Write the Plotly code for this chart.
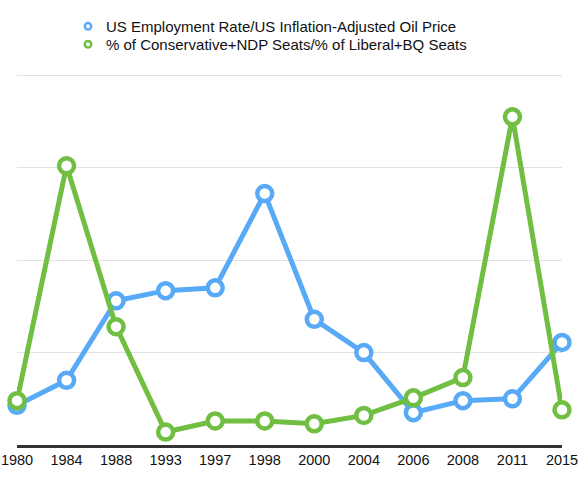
import plotly.graph_objects as go

years = ["1980", "1984", "1988", "1993", "1997", "1998", "2000", "2004", "2006", "2008", "2011", "2015"]
employment_oil = [0.43, 0.70, 1.56, 1.67, 1.70, 2.72, 1.36, 1.00, 0.35, 0.48, 0.50, 1.11]
seat_ratio = [0.48, 3.02, 1.28, 0.14, 0.26, 0.26, 0.23, 0.32, 0.51, 0.73, 3.55, 0.38]

name_blue = "US Employment Rate/US Inflation-Adjusted Oil Price"
name_green = "% of Conservative+NDP Seats/% of Liberal+BQ Seats"

BLUE = "rgb(88,170,246)"
GREEN = "rgb(112,190,66)"
FONT = "Liberation Sans, Arial, Helvetica, sans-serif"

W, H = 585, 491

Y_TOP = 4.1
UNIT = 92.5                      # px per y unit
PLOT_L, PLOT_R, PLOT_B = 17, 562, 445
PLOT_T = PLOT_B - Y_TOP * UNIT

ML = PLOT_L
MR = W - PLOT_R
MB = H - PLOT_B
MT = PLOT_T
PW = W - ML - MR
PH = H - MT - MB

def px_x(px):
    return (px - ML) / PW

def px_y(py):
    return (H - MB - py) / PH

fig = go.Figure()

for vals, col in [(employment_oil, BLUE), (seat_ratio, GREEN)]:
    fig.add_trace(go.Scatter(
        x=years, y=vals, mode="lines+markers", showlegend=False,
        line=dict(color=col, width=5),
        marker=dict(size=15, color="white", line=dict(color=col, width=4.5)),
        cliponaxis=False, hoverinfo="skip",
    ))

# legend drawn as markers + text
legend_rows = [(name_blue, BLUE, 26), (name_green, GREEN, 44)]
for nm, col, py in legend_rows:
    r = 3.2
    fig.add_shape(
        type="circle", xref="paper", yref="paper",
        x0=px_x(88 - r), x1=px_x(88 + r), y0=px_y(py + r), y1=px_y(py - r),
        line=dict(color=col, width=2.5), fillcolor="white", layer="above",
    )
    fig.add_annotation(
        x=px_x(104), y=px_y(py), xref="paper", yref="paper",
        text=nm, showarrow=False, xanchor="left", yanchor="middle",
        font=dict(family=FONT, size=15, color="#111"),
    )

fig.update_layout(
    width=W, height=H,
    margin=dict(l=ML, r=MR, t=MT, b=MB, pad=0, autoexpand=False),
    paper_bgcolor="white", plot_bgcolor="white",
    font=dict(family=FONT, size=14.5, color="#111"),
    showlegend=False,
    hovermode=False,
    xaxis=dict(
        type="category", range=[0, 11], showgrid=False, automargin=False,
        showline=True, linecolor="#333", linewidth=3,
        ticks="", tickfont=dict(size=14.5, color="#111"),
        zeroline=False,
    ),
    yaxis=dict(
        range=[0, Y_TOP], dtick=1, showgrid=True, gridcolor="#e2e2e2", gridwidth=1,
        showticklabels=False, zeroline=False, showline=False, ticks="", automargin=False,
    ),
)

fig.write_html(
    "out.html",
    config={"displayModeBar": False, "staticPlot": True},
    post_script="document.body.style.margin='0';document.body.style.overflow='hidden';",
)
